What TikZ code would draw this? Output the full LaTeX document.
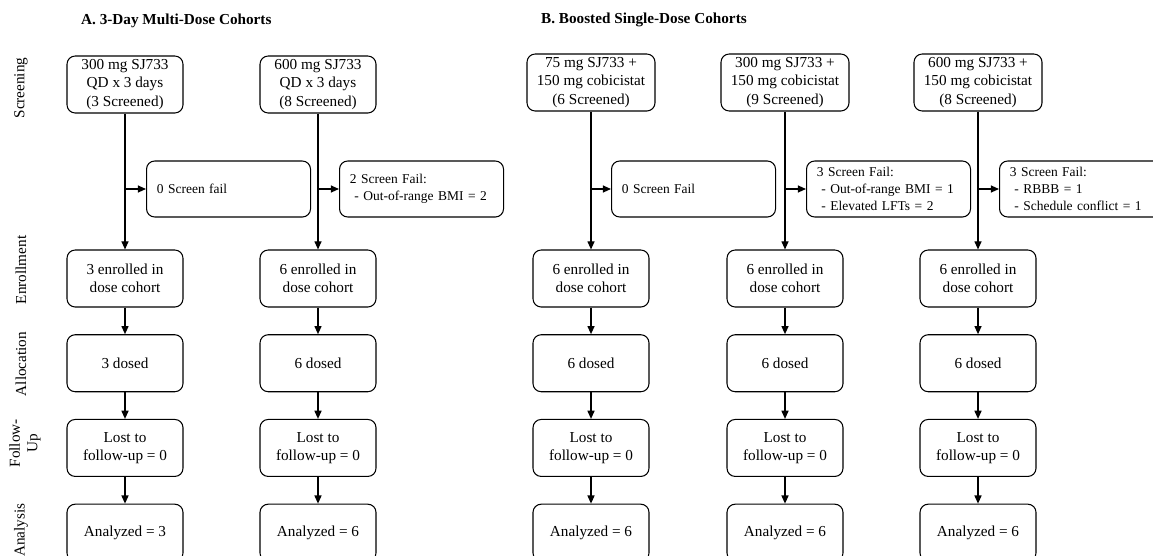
\documentclass[tikz,border=0pt]{standalone}
\usepackage{fontspec}
\setmainfont{Liberation Serif}
\usetikzlibrary{shapes, arrows.meta, positioning}

\begin{document}
\begin{tikzpicture}[
  box/.style={draw, rounded corners=7pt, line width=0.9pt, align=center,
    minimum width=3.48cm, minimum height=1.71cm, inner sep=2pt,
    font=\fontsize{13}{15.5}\selectfont},
  dosebox/.style={box, minimum width=3.84cm},
  failbox/.style={draw, rounded corners=7pt, line width=0.9pt, align=left,
    text width=4.3cm, inner xsep=0.31cm, minimum height=1.68cm,
    font=\fontsize{11.5}{14.2}\selectfont},
  phase/.style={rotate=90, align=center, font=\fontsize{13}{15}\selectfont},
  heading/.style={anchor=west, font=\fontsize{13}{15}\selectfont\bfseries},
  flow/.style={-{Triangle[length=7pt,width=6pt]}, line width=1.2pt},
  node distance=0.8cm]

  \useasboundingbox (0,0) rectangle (34.59,-16.65);

  \node[heading] (titleA) at (2.31,-0.63) {A. 3-Day Multi-Dose Cohorts};
  \node[heading] (titleB) at (16.11,-0.6) {B. Boosted Single-Dose Cohorts};

  \node[phase] (screening) at (0.63,-2.64) {Screening};
  \node[phase] (enrollment) at (0.63,-8.1) {Enrollment};
  \node[phase] (allocation) at (0.63,-10.92) {Allocation};
  \node[phase] (followup) at (0.75,-13.3) {Follow-\\Up};
  \node[phase] (analysis) at (0.63,-15.9) {Analysis};

  % A. multi-dose
  \node[box] (scrA1) at (3.75,-2.535) {300 mg SJ733\\QD x 3 days\\(3 Screened)};
  \node[box] (enrA1) at (3.75,-8.355) {3 enrolled in\\dose cohort};
  \node[box, below=of enrA1] (allA1) {3 dosed};
  \node[box, below=of allA1] (fupA1) {Lost to\\follow-up = 0};
  \node[box, below=of fupA1] (anaA1) {Analyzed = 3};
  \coordinate (jA1) at (3.75,-5.67);
  \node[failbox, right=0.63cm of jA1] (failA1) {0 Screen fail};

  \node[box] (scrA2) at (9.54,-2.535) {600 mg SJ733\\QD x 3 days\\(8 Screened)};
  \node[box] (enrA2) at (9.54,-8.355) {6 enrolled in\\dose cohort};
  \node[box, below=of enrA2] (allA2) {6 dosed};
  \node[box, below=of allA2] (fupA2) {Lost to\\follow-up = 0};
  \node[box, below=of fupA2] (anaA2) {Analyzed = 6};
  \coordinate (jA2) at (9.54,-5.67);
  \node[failbox, right=0.63cm of jA2] (failA2) {2 Screen Fail:\\\ - Out-of-range BMI = 2};

  % B. boosted single-dose
  \node[dosebox] (scrB1) at (17.73,-2.475) {75 mg SJ733 +\\150 mg cobicistat\\(6 Screened)};
  \node[box] (enrB1) at (17.73,-8.355) {6 enrolled in\\dose cohort};
  \node[box, below=of enrB1] (allB1) {6 dosed};
  \node[box, below=of allB1] (fupB1) {Lost to\\follow-up = 0};
  \node[box, below=of fupB1] (anaB1) {Analyzed = 6};
  \coordinate (jB1) at (17.73,-5.67);
  \node[failbox, right=0.6cm of jB1] (failB1) {0 Screen Fail};

  \node[dosebox] (scrB2) at (23.55,-2.475) {300 mg SJ733 +\\150 mg cobicistat\\(9 Screened)};
  \node[box] (enrB2) at (23.55,-8.355) {6 enrolled in\\dose cohort};
  \node[box, below=of enrB2] (allB2) {6 dosed};
  \node[box, below=of allB2] (fupB2) {Lost to\\follow-up = 0};
  \node[box, below=of fupB2] (anaB2) {Analyzed = 6};
  \coordinate (jB2) at (23.55,-5.67);
  \node[failbox, right=0.63cm of jB2] (failB2) {3 Screen Fail:\\\ - Out-of-range BMI = 1\\\ - Elevated LFTs = 2};

  \node[dosebox] (scrB3) at (29.34,-2.475) {600 mg SJ733 +\\150 mg cobicistat\\(8 Screened)};
  \node[box] (enrB3) at (29.34,-8.355) {6 enrolled in\\dose cohort};
  \node[box, below=of enrB3] (allB3) {6 dosed};
  \node[box, below=of allB3] (fupB3) {Lost to\\follow-up = 0};
  \node[box, below=of fupB3] (anaB3) {Analyzed = 6};
  \coordinate (jB3) at (29.34,-5.67);
  \node[failbox, right=0.63cm of jB3] (failB3) {3 Screen Fail:\\\ - RBBB = 1\\\ - Schedule conflict = 1};

  \draw[flow] (scrA1) -- (enrA1);
  \draw[flow] (jA1) -- (failA1);
  \draw[flow] (enrA1) -- (allA1);
  \draw[flow] (allA1) -- (fupA1);
  \draw[flow] (fupA1) -- (anaA1);

  \draw[flow] (scrA2) -- (enrA2);
  \draw[flow] (jA2) -- (failA2);
  \draw[flow] (enrA2) -- (allA2);
  \draw[flow] (allA2) -- (fupA2);
  \draw[flow] (fupA2) -- (anaA2);

  \draw[flow] (scrB1) -- (enrB1);
  \draw[flow] (jB1) -- (failB1);
  \draw[flow] (enrB1) -- (allB1);
  \draw[flow] (allB1) -- (fupB1);
  \draw[flow] (fupB1) -- (anaB1);

  \draw[flow] (scrB2) -- (enrB2);
  \draw[flow] (jB2) -- (failB2);
  \draw[flow] (enrB2) -- (allB2);
  \draw[flow] (allB2) -- (fupB2);
  \draw[flow] (fupB2) -- (anaB2);

  \draw[flow] (scrB3) -- (enrB3);
  \draw[flow] (jB3) -- (failB3);
  \draw[flow] (enrB3) -- (allB3);
  \draw[flow] (allB3) -- (fupB3);
  \draw[flow] (fupB3) -- (anaB3);
\end{tikzpicture}
\end{document}
